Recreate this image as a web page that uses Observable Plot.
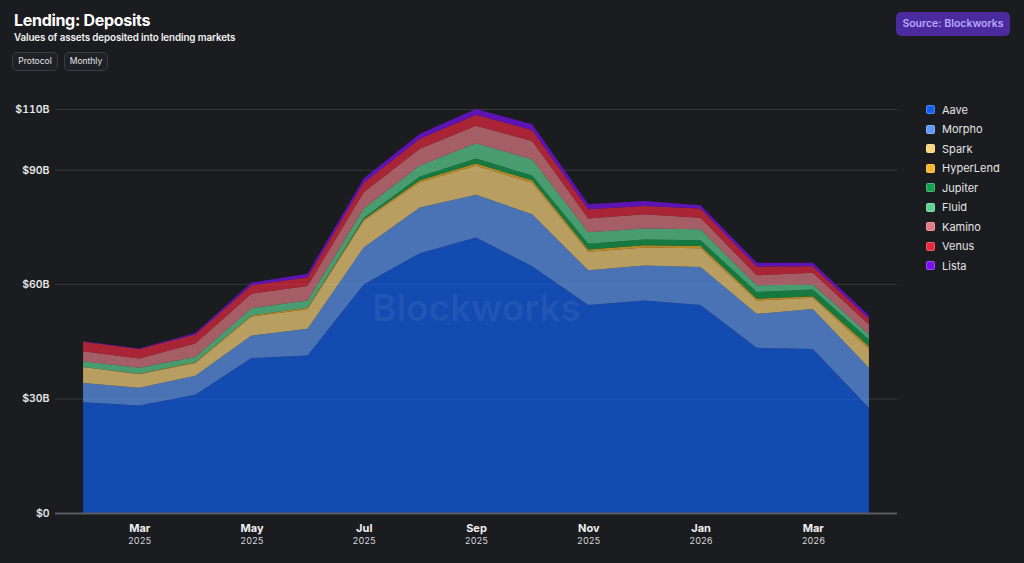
<!DOCTYPE html>
<html>
<head>
<meta charset="utf-8">
<script src="https://cdn.jsdelivr.net/npm/d3@7"></script>
<script src="https://cdn.jsdelivr.net/npm/@observablehq/plot@0.6"></script>
<style>
  html, body { margin: 0; padding: 0; background: #1b1c20; }
  body { width: 1024px; height: 563px; overflow: hidden; position: relative; font-family: Inter, "Noto Sans", sans-serif; color: #fff; }
  #title { position: absolute; left: 14px; top: 10px; font-size: 16px; font-weight: 700; letter-spacing: -0.3px; }
  #subtitle { position: absolute; left: 14px; top: 32px; font-size: 9.8px; font-weight: 600; color: #f2f2f2; letter-spacing: -0.1px; }
  .btn { position: absolute; top: 52px; height: 19px; box-sizing: border-box; border: 1px solid #3b3c42; border-radius: 5px; background: #202126; font-size: 8.5px; color: #e6e6e6; line-height: 17px; text-align: center; }
  #source { position: absolute; left: 896px; top: 12px; width: 114px; height: 24px; border-radius: 5px; background: #4a2a9c; color: #b9a7ff; font-size: 10.5px; font-weight: 600; line-height: 24px; text-align: center; }
  #chart { position: absolute; left: 0; top: 90px; }
  #legend { position: absolute; left: 926px; top: 100px; font-size: 11px; color: #e4e4e4; }
  .item { height: 19.5px; display: flex; align-items: center; }
  .sw { width: 9px; height: 9px; border-radius: 2px; margin-right: 7px; box-sizing: border-box; border: 1px solid rgba(255,255,255,0.25); }
</style>
</head>
<body>
<div id="title">Lending: Deposits</div>
<div id="subtitle">Values of assets deposited into lending markets</div>
<div class="btn" style="left:12px;width:46px;">Protocol</div>
<div class="btn" style="left:64px;width:44px;">Monthly</div>
<div id="source">Source: Blockworks</div>
<div id="chart"></div>
<div id="legend"></div>
<script>
// Monthly data, values in billions of USD
const months = ["2025-02","2025-03","2025-04","2025-05","2025-06","2025-07","2025-08","2025-09","2025-10","2025-11","2025-12","2026-01","2026-02","2026-03","2026-04"];
const protocols = ["Aave","Morpho","Spark","HyperLend","Jupiter","Fluid","Kamino","Venus","Lista"];
const colors = ["#1160f0","#5d99f5","#fcd67d","#f8b62a","#12a14f","#5cd393","#e07a84","#e6293f","#7b0ff5"];
const aave      = [29.0, 28.2, 31.0, 40.6, 41.3, 59.9, 68.1, 72.2, 64.7, 54.5, 55.7, 54.5, 43.3, 43.0, 27.6];
const morpho    = [ 5.1,  4.6,  5.0,  5.9,  7.0,  9.7, 12.0, 11.2, 13.6,  9.1,  9.2, 10.0,  8.9, 10.5, 10.5];
const spark     = [ 4.2,  3.6,  3.3,  5.0,  5.1,  7.0,  6.6,  7.6,  8.3,  4.9,  4.7,  4.9,  3.5,  2.9,  4.9];
const hyperlend = [ 0.0,  0.1,  0.2,  0.3,  0.4,  0.4,  0.5,  0.6,  0.6,  0.6,  0.6,  0.6,  0.5,  0.4,  0.7];
const jupiter   = [ 0.0,  0.0,  0.0,  0.0,  0.0,  0.3,  1.0,  1.3,  1.3,  1.5,  1.5,  1.5,  1.7,  1.8,  1.8];
const fluid     = [ 1.5,  1.6,  1.4,  1.9,  1.9,  2.5,  2.9,  4.0,  4.2,  3.0,  2.9,  2.9,  1.8,  1.3,  1.3];
const kamino    = [ 2.6,  2.4,  3.5,  3.8,  3.8,  4.3,  4.4,  4.6,  4.8,  3.6,  3.7,  3.0,  2.6,  3.1,  2.6];
const venus     = [ 2.5,  2.5,  2.4,  2.2,  2.3,  2.5,  2.6,  2.9,  2.9,  2.4,  2.2,  2.4,  2.3,  1.7,  1.5];
const lista     = [ 0.1,  0.1,  0.4,  0.7,  0.9,  1.1,  1.3,  1.5,  1.5,  1.3,  1.3,  0.9,  1.0,  0.9,  0.9];
// x-axis tick labels (every other month)
const tickMonths = ["2025-03","2025-05","2025-07","2025-09","2025-11","2026-01","2026-03"];

const series = [aave, morpho, spark, hyperlend, jupiter, fluid, kamino, venus, lista];
const parse = d3.utcParse("%Y-%m");
const data = [];
protocols.forEach((p, k) => months.forEach((m, i) => data.push({protocol: p, idx: i, value: series[k][i]})));

const totals = months.map((m, i) => d3.sum(series, s => s[i]));
const maxTotal = d3.max(totals);
const yTicks = [0, 30, 60, 90, maxTotal];
const fmtY = v => v === 0 ? "$0" : "$" + (v >= 100 ? Math.round(v / 10) * 10 : Math.round(v)) + "B";

const xTicks = tickMonths.map(m => months.indexOf(m));
const fmtMon = i => d3.utcFormat("%b")(parse(months[i]));
const fmtYear = i => d3.utcFormat("%Y")(parse(months[i]));

const chart = Plot.plot({
  width: 910,
  height: 473,
  marginLeft: 55,
  marginRight: 13,
  marginTop: 19,
  marginBottom: 50,
  style: {background: "transparent", fontFamily: "Inter, 'Noto Sans', sans-serif"},
  x: {type: "linear", domain: [-0.5, months.length - 0.5]},
  y: {domain: [0, maxTotal]},
  color: {domain: protocols, range: colors},
  marks: [
    Plot.gridY(yTicks, {stroke: "#ffffff", strokeOpacity: 0.13, strokeWidth: 1}),
    Plot.areaY(data, {x: "idx", y: "value", fill: "protocol", z: "protocol", order: protocols, fillOpacity: 0.7, curve: "linear"}),
    Plot.text(["Blockworks"], {frameAnchor: "middle", dy: -2, fontSize: 37, fontWeight: 600, fill: "#ffffff", fillOpacity: 0.06, letterSpacing: -1}),
    Plot.ruleY([0], {stroke: "#5a5b60", strokeWidth: 2}),
    Plot.axisY(yTicks, {tickSize: 0, tickPadding: 6, tickFormat: fmtY, fill: "#e6e6e6", fontSize: 10.5, fontWeight: 600, label: null}),
    Plot.axisX(xTicks, {tickSize: 0, tickPadding: 11, tickFormat: fmtMon, fill: "#f0f0f0", fontSize: 11, fontWeight: 700, label: null}),
    Plot.axisX(xTicks, {tickSize: 0, tickPadding: 24, tickFormat: fmtYear, fill: "#d8d8d8", fontSize: 9, label: null})
  ]
});
document.getElementById("chart").appendChild(chart);

const legend = document.getElementById("legend");
protocols.forEach((p, k) => {
  const it = document.createElement("div");
  it.className = "item";
  const sw = document.createElement("span");
  sw.className = "sw";
  sw.style.background = colors[k];
  const lab = document.createElement("span");
  lab.textContent = p;
  it.appendChild(sw); it.appendChild(lab);
  legend.appendChild(it);
});
</script>
</body>
</html>
